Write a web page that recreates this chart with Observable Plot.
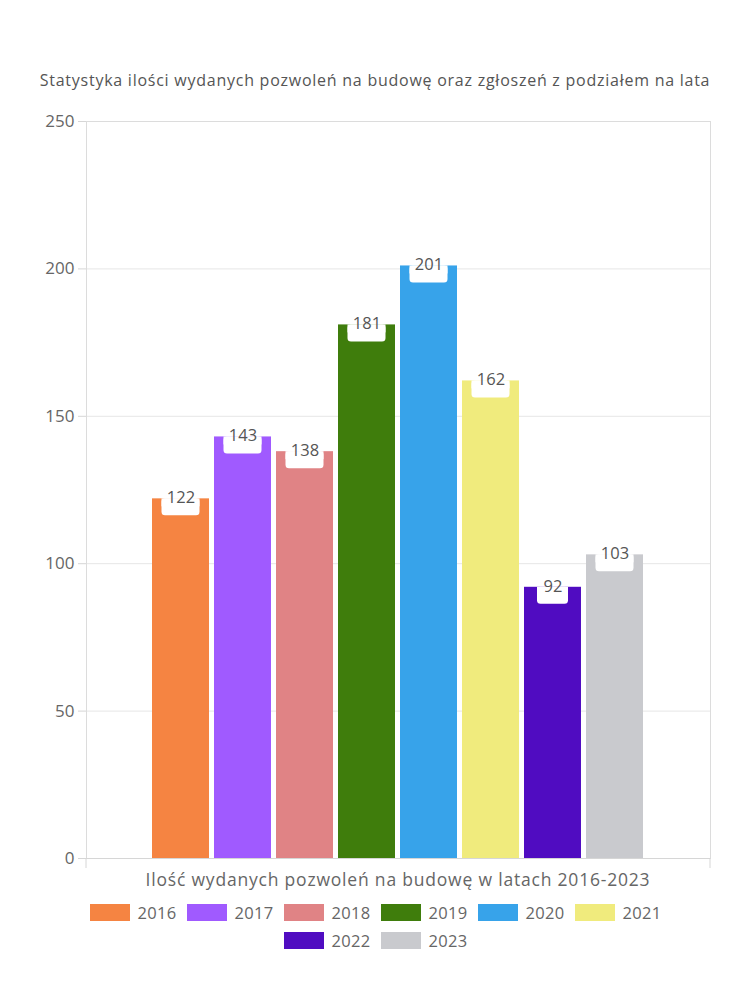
<!DOCTYPE html>
<html>
<head>
<meta charset="utf-8">
<script src="https://cdn.jsdelivr.net/npm/d3@7"></script>
<script src="https://cdn.jsdelivr.net/npm/@observablehq/plot@0.6"></script>
<style>
  body { margin: 0; background: #fff; font-family: "Open Sans", sans-serif; color: #5a5a5a; }
  #wrap { position: relative; width: 750px; height: 1000px; }
  #title { position: absolute; left: 0; width: 750px; top: 69px; text-align: center; font-size: 16px; letter-spacing: 0.75px; line-height: 22px; color: #555; }
  #chart { position: absolute; left: 0; top: 110px; }
  #xlabel { position: absolute; left: 86px; width: 624px; top: 867px; text-align: center; font-size: 17.5px; letter-spacing: 0.8px; line-height: 24px; color: #666; }
  #legend { position: absolute; left: 75px; width: 600px; top: 902px; display: flex; flex-wrap: wrap; justify-content: center; row-gap: 8px; }
  .item { display: flex; align-items: center; margin: 0 5.5px; height: 20px; width: 86px; }
  .sw { width: 40px; height: 17px; margin-right: 8px; flex: none; }
  .lab { font-size: 16.5px; color: #666; letter-spacing: 0.3px; }
</style>
</head>
<body>
<div id="wrap">
  <div id="title"></div>
  <div id="chart"></div>
  <div id="xlabel"></div>
  <div id="legend"></div>
</div>
<script>
const titleText = "Statystyka ilości wydanych pozwoleń na budowę oraz zgłoszeń z podziałem na lata";
const categoryLabel = "Ilość wydanych pozwoleń na budowę w latach 2016-2023";
const years = ["2016", "2017", "2018", "2019", "2020", "2021", "2022", "2023"];
const values = [122, 143, 138, 181, 201, 162, 92, 103];
const colors = ["#F58442", "#A05AFF", "#E08385", "#3F7D0C", "#37A3EA", "#F0EB7D", "#500CC1", "#C9CACE"];
const yTicks = [0, 50, 100, 150, 200, 250];

const data = years.map((y, i) => ({year: y, value: values[i], color: colors[i]}));

document.getElementById("title").textContent = titleText;
document.getElementById("xlabel").textContent = categoryLabel;

const endTicks = (index, scales, values, dims) => {
  const g = d3.create("svg:g");
  const yb = dims.height - dims.marginBottom;
  for (const x of [dims.marginLeft, dims.width - dims.marginRight]) {
    g.append("line").attr("x1", x).attr("x2", x).attr("y1", yb).attr("y2", yb + 10)
      .attr("stroke", "#d6d6d6");
  }
  return g.node();
};

const chart = Plot.plot({
  width: 750,
  height: 762,
  marginTop: 11,
  marginBottom: 14,
  marginLeft: 86,
  marginRight: 40,
  style: {fontFamily: "Open Sans, sans-serif", fontSize: "16px", color: "#666"},
  x: {type: "band", domain: years, paddingInner: 0.08, paddingOuter: 1.04, axis: null},
  y: {domain: [0, 250], ticks: yTicks, label: null},
  marks: [
    Plot.gridY(yTicks, {stroke: "#e6e6e6", strokeOpacity: 1}),
    Plot.frame({stroke: "#dcdcdc"}),
    Plot.axisY(yTicks, {tickSize: 8, tickPadding: 4, stroke: "#d6d6d6", fill: "#666", label: null, fontSize: 17}),
    Plot.barY(data, {x: "year", y: "value", fill: "color"}),
    Plot.ruleY([0], {stroke: "#d6d6d6"}),
    endTicks,
    // white label boxes (rounded bottom)
    Plot.barY(data.filter(d => d.value >= 100), {x: "year", y1: "value", y2: "value", insetBottom: -17, insetLeft: 9.5, insetRight: 9.5, fill: "white", rx: 3.5}),
    Plot.barY(data.filter(d => d.value >= 100), {x: "year", y1: "value", y2: "value", insetBottom: -8, insetLeft: 9.5, insetRight: 9.5, fill: "white"}),
    Plot.barY(data.filter(d => d.value < 100), {x: "year", y1: "value", y2: "value", insetBottom: -17, insetLeft: 13, insetRight: 13, fill: "white", rx: 3.5}),
    Plot.barY(data.filter(d => d.value < 100), {x: "year", y1: "value", y2: "value", insetBottom: -8, insetLeft: 13, insetRight: 13, fill: "white"}),
    Plot.text(data, {x: "year", y: "value", text: d => String(d.value), fill: "#555", fontSize: 16.5, lineAnchor: "middle", dy: -1})
  ]
});
document.getElementById("chart").appendChild(chart);

const legend = document.getElementById("legend");
years.forEach((y, i) => {
  const it = document.createElement("div");
  it.className = "item";
  const sw = document.createElement("div");
  sw.className = "sw";
  sw.style.background = colors[i];
  const lab = document.createElement("span");
  lab.className = "lab";
  lab.textContent = y;
  it.appendChild(sw);
  it.appendChild(lab);
  legend.appendChild(it);
});
</script>
</body>
</html>
